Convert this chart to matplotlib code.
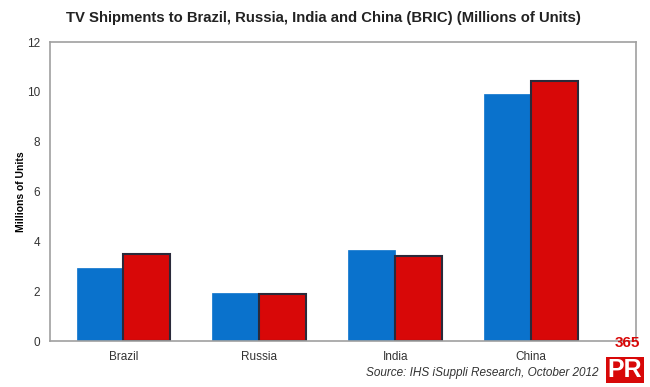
import matplotlib.pyplot as plt
import numpy as np

plt.rcParams['font.family'] = ['Liberation Sans', 'DejaVu Sans']

categories = ["Brazil", "Russia", "India", "China"]
series_a = [2.93, 1.93, 3.65, 9.92]
series_b = [3.49, 1.89, 3.41, 10.44]
y_ticks = [0, 2, 4, 6, 8, 10, 12]

fig = plt.figure(figsize=(6.5, 3.87), dpi=100)
ax = fig.add_axes([50/650, 1 - 341/387, 586/650, 299/387])

x = np.arange(len(categories))
w = 0.345
ax.bar(x - w/2, series_a, w, color="#0A72CC", edgecolor="#0A72CC", linewidth=0.5)
ax.bar(x + w/2, series_b, w, color="#D80808", edgecolor="#2a2a3a", linewidth=1.5)

ax.set_xlim(-0.54, 3.77)
ax.set_ylim(0, 12)
ax.set_yticks(y_ticks)
ax.set_xticks(x)
ax.set_xticklabels(categories)
ax.tick_params(length=0, labelsize=8.5, colors="#333333", pad=7)
for s in ax.spines.values():
    s.set_color("#a0a0a0")
    s.set_linewidth(1.2)
ax.set_ylabel("Millions of Units", fontsize=7.5, fontweight="bold", labelpad=1)

fig.text(323/650, 1 - 18/387, "TV Shipments to Brazil, Russia, India and China (BRIC) (Millions of Units)",
         ha="center", va="center", fontsize=10.7, fontweight="bold", color="#222222")
fig.text(598/650, 1 - 373/387, "Source: IHS iSuppli Research, October 2012",
         ha="right", va="center", fontsize=8.5, style="italic", color="#333333")

# 365PR watermark
fig.text(627/650, 1 - 343/387, "365", ha="center", va="center", fontsize=11,
         fontweight="bold", color="#D80808")
fig.text(625/650, 1 - 370/387, "PR", ha="center", va="center", fontsize=18,
         fontweight="bold", color="white",
         bbox=dict(boxstyle="square,pad=0.05", fc="#D80808", ec="none"))

fig.savefig("out.png", dpi=100)
